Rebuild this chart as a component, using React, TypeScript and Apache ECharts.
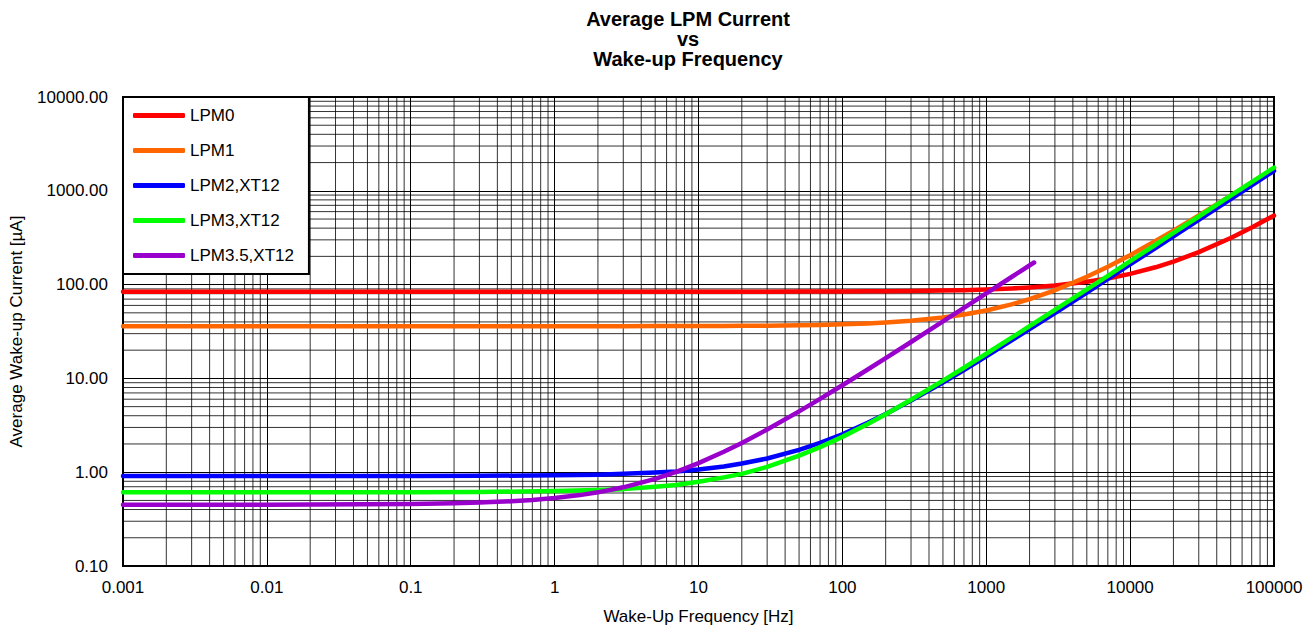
import React, { useEffect, useRef } from "react";
import * as echarts from "echarts";

const FONT = '"Liberation Sans", Arial, Helvetica, sans-serif';

const TITLE_LINES = ["Average LPM Current", "vs", "Wake-up Frequency"];
const X_NAME = "Wake-Up Frequency [Hz]";
const Y_NAME = "Average Wake-up Current [µA]";
const X_TICK_LABELS = ["0.001", "0.01", "0.1", "1", "10", "100", "1000", "10000", "100000"];
const Y_TICK_LABELS = ["0.10", "1.00", "10.00", "100.00", "1000.00", "10000.00"];
const SERIES_NAMES = ["LPM0", "LPM1", "LPM2,XT12", "LPM3,XT12", "LPM3.5,XT12"];
const SERIES_COLORS = ["#ff0000", "#ff6600", "#0000ff", "#00ff00", "#9900cc"];

// Wake-up frequency [Hz] shared by LPM0..LPM3
const FREQ = [0.001, 0.01, 0.1, 0.3, 1, 2, 3, 5, 7, 10, 15, 20, 30, 50, 70, 100, 150, 200, 300, 500, 700, 1000, 1500, 2000, 3000, 5000, 7000, 10000, 15000, 20000, 30000, 50000, 70000, 100000];

const LPM0 = [84, 84, 84, 84, 84, 84, 84, 84, 84, 84.05, 84.07, 84.1, 84.14, 84.23, 84.32, 84.46, 84.69, 84.92, 85.38, 86.3, 87.2, 88.6, 90.9, 93.2, 97.8, 107, 116, 130, 153, 176, 222, 314, 406, 544];
const LPM1 = [36, 36, 36, 36, 36, 36.03, 36.05, 36.09, 36.12, 36.17, 36.26, 36.34, 36.51, 36.85, 37.19, 37.7, 38.55, 39.4, 41.1, 44.5, 47.9, 53, 61.5, 70, 87, 121, 155, 206, 291, 376, 546, 886, 1226, 1736];
const LPM2 = [0.91, 0.91, 0.91, 0.915, 0.926, 0.94, 0.96, 0.99, 1.02, 1.07, 1.15, 1.24, 1.4, 1.73, 2.05, 2.54, 3.36, 4.17, 5.8, 9.06, 12.3, 17.2, 25.4, 33.5, 49.8, 82.4, 115, 164, 245, 327, 490, 816, 1142, 1631];
const LPM3 = [0.61, 0.61, 0.61, 0.615, 0.63, 0.645, 0.66, 0.7, 0.73, 0.79, 0.88, 0.96, 1.14, 1.5, 1.85, 2.38, 3.27, 4.15, 5.92, 9.46, 13.0, 18.3, 27.2, 36.0, 53.7, 89.1, 124, 178, 266, 355, 532, 886, 1240, 1770];

// LPM3.5 stops at about 2.15 kHz
const FREQ_LPM35 = [0.001, 0.01, 0.1, 0.2, 0.3, 0.5, 0.7, 1, 1.5, 2, 3, 5, 7, 10, 15, 20, 30, 50, 70, 100, 150, 200, 300, 500, 700, 1000, 1500, 2150];
const LPM35 = [0.45, 0.45, 0.458, 0.466, 0.474, 0.49, 0.506, 0.53, 0.57, 0.61, 0.69, 0.85, 1.01, 1.25, 1.65, 2.05, 2.85, 4.45, 6.05, 8.45, 12.45, 16.45, 24.45, 40.45, 56.45, 80.45, 120.5, 172];

const X_MIN = 0.001;
const X_MAX = 100000;
const Y_MIN = 0.1;
const Y_MAX = 10000;

const pair = (xs: number[], ys: number[]) => xs.map((x, i) => [x, ys[i]]);

export default function App() {
  const ref = useRef<HTMLDivElement>(null);

  useEffect(() => {
    if (!ref.current) return;
    const chart = echarts.init(ref.current, undefined, { renderer: "svg" });

    // minor log gridlines (2..9 within each decade)
    const minorX: number[] = [];
    for (let e = Math.round(Math.log10(X_MIN)); e < Math.round(Math.log10(X_MAX)); e++) {
      for (let m = 2; m <= 9; m++) minorX.push(m * Math.pow(10, e));
    }
    const minorY: number[] = [];
    for (let e = Math.round(Math.log10(Y_MIN)); e < Math.round(Math.log10(Y_MAX)); e++) {
      for (let m = 2; m <= 9; m++) minorY.push(m * Math.pow(10, e));
    }

    const dataSets = [
      pair(FREQ, LPM0),
      pair(FREQ, LPM1),
      pair(FREQ, LPM2),
      pair(FREQ, LPM3),
      pair(FREQ_LPM35, LPM35),
    ];

    const dataSeries = SERIES_NAMES.map((name, i) => ({
      name,
      type: "line",
      data: dataSets[i],
      symbol: "none",
      showSymbol: false,
      smooth: false,
      z: 10 + i,
      color: SERIES_COLORS[i],
      lineStyle: { color: SERIES_COLORS[i], width: 4.5, cap: "round", join: "round" },
      emphasis: { disabled: true },
      silent: true,
    }));

    const gridStyle = { stroke: "#000", lineWidth: 1, opacity: 0.8 };

    chart.setOption({
      animation: false,
      backgroundColor: "#ffffff",
      textStyle: { fontFamily: FONT },
      graphic: [
        {
          type: "text",
          x: 688,
          y: 9,
          silent: true,
          z: 30,
          style: {
            text: TITLE_LINES.join("\n"),
            fill: "#000",
            fontSize: 20,
            fontWeight: "bold",
            fontFamily: FONT,
            align: "center",
            verticalAlign: "top",
            lineHeight: 20,
          },
        },
      ],
      grid: {
        left: 123,
        right: 42,
        top: 97,
        bottom: 62,
        show: true,
        borderColor: "#000",
        borderWidth: 2,
        backgroundColor: "#fff",
      },
      legend: {
        orient: "vertical",
        left: 123,
        top: 97,
        z: 40,
        data: SERIES_NAMES,
        icon: "roundRect",
        itemWidth: 52,
        itemHeight: 5,
        itemGap: 18,
        padding: [10, 15, 10, 10],
        backgroundColor: "#fff",
        borderColor: "#000",
        borderWidth: 2,
        borderRadius: 0,
        selectedMode: false,
        textStyle: { fontSize: 17, color: "#000", fontFamily: FONT },
      },
      xAxis: {
        type: "log",
        logBase: 10,
        min: X_MIN,
        max: X_MAX,
        interval: 1,
        name: X_NAME,
        nameLocation: "middle",
        nameGap: 42,
        nameTextStyle: { fontSize: 17, color: "#000", fontFamily: FONT },
        axisLine: { show: true, lineStyle: { color: "#000", width: 2 } },
        axisTick: { show: false },
        axisLabel: {
          fontSize: 17,
          color: "#000",
          margin: 13,
          fontFamily: FONT,
          formatter: (v: number) => X_TICK_LABELS[Math.round(Math.log10(v)) + 3] ?? "",
        },
        splitLine: { show: true, lineStyle: { color: "#000", width: 1 } },
      },
      yAxis: {
        type: "log",
        logBase: 10,
        min: Y_MIN,
        max: Y_MAX,
        interval: 1,
        name: Y_NAME,
        nameLocation: "middle",
        nameGap: 98,
        nameTextStyle: { fontSize: 17, color: "#000", fontFamily: FONT },
        axisLine: { show: true, lineStyle: { color: "#000", width: 2 } },
        axisTick: { show: false },
        axisLabel: {
          fontSize: 17,
          color: "#000",
          margin: 15,
          fontFamily: FONT,
          formatter: (v: number) => Y_TICK_LABELS[Math.round(Math.log10(v)) + 1] ?? "",
        },
        splitLine: { show: true, lineStyle: { color: "#000", width: 1 } },
      },
      series: [
        {
          name: "_gridX",
          type: "custom",
          silent: true,
          z: 1,
          data: minorX.map((v) => [v, 1]),
          renderItem: (params: any, api: any) => {
            const x = api.value(0);
            const p1 = api.coord([x, Y_MIN]);
            const p2 = api.coord([x, Y_MAX]);
            return {
              type: "line",
              shape: { x1: p1[0], y1: p1[1], x2: p2[0], y2: p2[1] },
              style: gridStyle,
              silent: true,
            };
          },
        },
        {
          name: "_gridY",
          type: "custom",
          silent: true,
          z: 1,
          data: minorY.map((v) => [1, v]),
          renderItem: (params: any, api: any) => {
            const y = api.value(1);
            const p1 = api.coord([X_MIN, y]);
            const p2 = api.coord([X_MAX, y]);
            return {
              type: "line",
              shape: { x1: p1[0], y1: p1[1], x2: p2[0], y2: p2[1] },
              style: gridStyle,
              silent: true,
            };
          },
        },
        ...dataSeries,
      ],
    });

    return () => {
      chart.dispose();
    };
  }, []);

  return (
    <div
      ref={ref}
      style={{ position: "fixed", left: 0, top: 0, width: 1316, height: 630, background: "#fff" }}
    />
  );
}
